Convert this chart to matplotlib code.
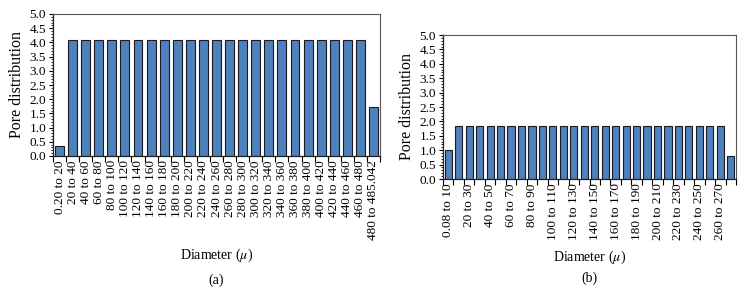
import matplotlib
matplotlib.use("Agg")
import matplotlib.pyplot as plt
from matplotlib.ticker import MultipleLocator, FixedLocator
import numpy as np

plt.rcParams['font.family'] = ['Liberation Serif', 'DejaVu Serif']
plt.rcParams['mathtext.fontset'] = 'stix'

cats_a = ["0.20 to 20"] + [f"{i} to {i+20}" for i in range(20, 480, 20)] + ["480 to 485.042"]
vals_a = [0.35] + [4.07] * 23 + [1.72]

cats_b = ["0.08 to 10"] + [f"{i} to {i+10}" for i in range(10, 280, 10)]
vals_b = [1.0] + [1.85] * 26 + [0.8]

bar_color = "#4F81BD"
edge_color = "#1a1a2a"

fig = plt.figure(figsize=(7.44, 2.93), dpi=100)

def draw(ax, cats, vals, label_step):
    x = np.arange(len(cats))
    ax.bar(x, vals, width=0.68, color=bar_color, edgecolor=edge_color, linewidth=0.8)
    ax.set_xlim(-0.5, len(cats) - 0.5)
    ax.set_ylim(0, 5.0)
    ax.set_yticks(np.arange(0, 5.01, 0.5))
    ax.set_yticklabels([f"{v:.1f}" for v in np.arange(0, 5.01, 0.5)])
    ax.yaxis.set_minor_locator(MultipleLocator(0.1))
    ax.set_xticks(x[::label_step])
    ax.set_xticklabels(cats[::label_step], rotation=90, fontsize=9.5)
    ax.tick_params(axis='x', length=0, pad=3)
    ax.xaxis.set_minor_locator(FixedLocator(np.arange(-0.5, len(cats), 1.0)))
    ax.tick_params(axis='x', which='minor', length=4, width=0.8, direction='out')
    ax.tick_params(axis='y', which='major', length=3, labelsize=9.5, direction='out', pad=2)
    ax.tick_params(axis='y', which='minor', length=1.5, direction='out')
    for s in ['top', 'right']:
        ax.spines[s].set_color('#555555')
        ax.spines[s].set_linewidth(0.8)
    for s in ['left', 'bottom']:
        ax.spines[s].set_color('#222222')
        ax.spines[s].set_linewidth(0.9)
    ax.set_ylabel("Pore distribution", fontsize=11.5, labelpad=3)
    ax.set_xlabel(r"Diameter ($\mu$)", fontsize=10)

W, H = 744, 293
ax1 = fig.add_axes([53 / W, 1 - 156 / H, (380 - 53) / W, (156 - 14) / H])
draw(ax1, cats_a, vals_a, 1)
ax1.xaxis.set_label_coords(0.5, (156 - 247) / 142)

ax2 = fig.add_axes([443 / W, 1 - 179 / H, (736 - 443) / W, (179 - 35) / H])
draw(ax2, cats_b, vals_b, 2)
ax2.xaxis.set_label_coords(0.5, (179 - 249) / 144)

fig.text((53 + 380) / 2 / W, 1 - 280 / H, "(a)", ha='center', va='center', fontsize=10)
fig.text((443 + 736) / 2 / W, 1 - 278 / H, "(b)", ha='center', va='center', fontsize=10)

fig.savefig("out.png", dpi=100)
